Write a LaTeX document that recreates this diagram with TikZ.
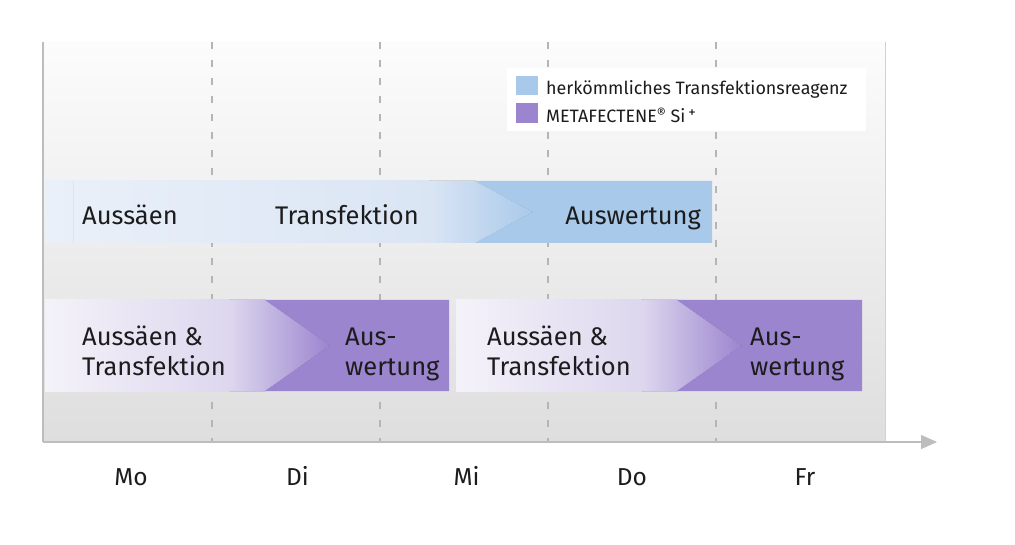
\documentclass[tikz,border=0pt]{standalone}
\usepackage{fontspec}
\setmainfont{Fira Sans}
\usetikzlibrary{arrows.meta}
\definecolor{bgT}{HTML}{FCFCFC}
\definecolor{bgB}{HTML}{DEDEDE}
\definecolor{blueS}{HTML}{A9C9EA}
\definecolor{blueL}{HTML}{EAF0F9}
\definecolor{blueM}{HTML}{DAE5F4}
\definecolor{purS}{HTML}{9B85CF}
\definecolor{purL}{HTML}{F4F2F9}
\definecolor{purM}{HTML}{DDD7EE}
\definecolor{gridc}{HTML}{B5B5B5}
\definecolor{axisc}{HTML}{BDBDBD}
\definecolor{txt}{HTML}{1C1C1C}
\tikzset{
  gridline/.style={gridc, line width=1.3pt, dash pattern=on 7pt off 11pt},
  bartext/.style={inner sep=0pt, text=txt, font=\fontsize{25.5}{30}\selectfont, align=left},
  legtext/.style={inner sep=0pt, text=txt, font=\fontsize{17.9}{20}\selectfont},
  daytext/.style={inner sep=0pt, text=txt, font=\fontsize{24.5}{28}\selectfont},
}
\begin{document}
\begin{tikzpicture}[x=1pt,y=-1pt]
\useasboundingbox (0,0) rectangle (1015,545);
% background
\fill[top color=bgT, bottom color=bgB] (43,42) rectangle (885,442);
\foreach \gx in {212,380,548,716} \draw[gridline] (\gx,42) -- (\gx,442);
% blue row
\fill[left color=blueL, right color=blueM] (45,181) rectangle (431,243);
\draw[blueM, line width=0.8pt] (73,181) -- (73,243);
\fill[left color=blueM, right color=blueS] (430,181) -- (475.5,181) -- (533,212) -- (475.5,243) -- (430,243) -- cycle;
\fill[blueS] (475,181) -- (712,181) -- (712,243) -- (475,243) -- (533,212) -- cycle;
% purple row 1
\fill[left color=purL, right color=purM] (45,300) rectangle (231,391);
\fill[left color=purM, right color=purS] (230,300) -- (265.5,300) -- (330,345.5) -- (265.5,391) -- (230,391) -- cycle;
\fill[purS] (265,300) -- (449,300) -- (449,391) -- (265,391) -- (330,345.5) -- cycle;
% purple row 2
\fill[left color=purL, right color=purM] (456,300) rectangle (643,391);
\fill[left color=purM, right color=purS] (642,300) -- (677.5,300) -- (742,345.5) -- (677.5,391) -- (642,391) -- cycle;
\fill[purS] (677,300) -- (862,300) -- (862,391) -- (677,391) -- (742,345.5) -- cycle;
% bar texts
\node[bartext, anchor=base west] (aussaen) at (82,225) {Aussäen};
\node[bartext, anchor=base west] (transf) at (275,225) {Transfektion};
\node[bartext, anchor=base east] (ausw) at (701,225) {Auswertung};
\node[bartext, anchor=base west] (at1) at (82,375) {Aussäen \&\\Transfektion};
\node[bartext, anchor=base west] (aw1) at (345,375) {Aus-\\wertung};
\node[bartext, anchor=base west] (at2) at (487,375) {Aussäen \&\\Transfektion};
\node[bartext, anchor=base west] (aw2) at (750,375) {Aus-\\wertung};
% axes
\coordinate (ytop) at (43,42);
\coordinate (orig) at (43,442);
\coordinate (xend) at (937,442);
\coordinate (rtop) at (885,42);
\coordinate (rbot) at (885,442);
\draw[axisc, line width=1.2pt] (ytop) -- (orig);
\draw[axisc!70!white, line width=1pt] (rtop) -- (rbot);
\draw[axisc, line width=1.2pt, -{Triangle[length=16pt,width=14pt]}] (orig) -- (xend);
% legend
\fill[white] (507,68) rectangle (866,131.5);
\fill[blueS] (516,76) rectangle (538,95);
\fill[purS] (516,103.5) rectangle (538,123.5);
\node[legtext, anchor=base west] (leg1) at (546,95) {herkömmliches Transfektionsreagenz};
\node[legtext, anchor=base west] (leg2) at (546,123) {METAFECTENE\raisebox{0.45ex}{\fontsize{14}{14}\selectfont®} Si\,\raisebox{0.55ex}{\fontsize{15}{15}\selectfont +}};
% days
\node[daytext, anchor=base] (mo) at (131,485) {Mo};
\node[daytext, anchor=base] (di) at (297.5,485) {Di};
\node[daytext, anchor=base] (mi) at (466.5,485) {Mi};
\node[daytext, anchor=base] (do) at (632,485) {Do};
\node[daytext, anchor=base] (fr) at (805,485) {Fr};
\end{tikzpicture}
\end{document}
